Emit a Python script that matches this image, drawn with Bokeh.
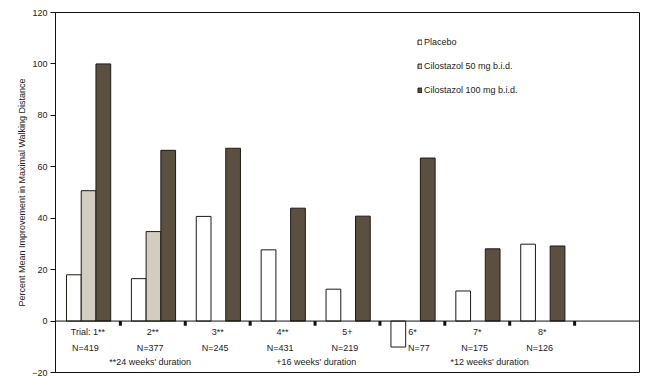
import math
from bokeh.plotting import figure
from bokeh.models import Range1d, ColumnDataSource, Span, Legend, LegendItem, FixedTicker
from bokeh.core.properties import value
from bokeh.embed import file_html
from bokeh.resources import INLINE

# ---- data ----
trial_labels = ["Trial: 1**", "2**", "3**", "4**", "5+", "6*", "7*", "8*"]
n_labels = ["N=419", "N=377", "N=245", "N=431", "N=219", "N=77", "N=175", "N=126"]
placebo = [18.0, 16.5, 40.7, 27.7, 12.4, -10.1, 11.7, 29.9]
cilo50 = [50.7, 34.8, None, None, None, None, None, None]
cilo100 = [100.0, 66.4, 67.2, 43.9, 40.8, 63.4, 28.1, 29.2]
series_names = ["Placebo", "Cilostazol 50 mg b.i.d.", "Cilostazol 100 mg b.i.d."]
duration_labels = ["**24 weeks' duration", "+16 weeks' duration", "*12 weeks' duration"]
duration_pos = [1.46, 4.02, 6.69]   # label centres, in category units
y_ticks = [-20, 0, 20, 40, 60, 80, 100, 120]

FONT = "Liberation Sans"
TXT = "#222222"
EDGE = "#1e1a14"
fills = ["#ffffff", "#d3cdc1", "#5b5040"]

n_cat = len(trial_labels)
x_max = n_cat + 1  # one empty slot at the right

p = figure(width=646, height=376, output_backend="svg", toolbar_location=None,
           x_range=Range1d(0, x_max), y_range=Range1d(-20, 120),
           min_border_left=55, min_border_right=7, min_border_top=12, min_border_bottom=4)
p.background_fill_color = "white"
p.border_fill_color = "white"
p.outline_line_color = "#111111"
p.outline_line_width = 1
p.grid.visible = False
p.xaxis.visible = False

ya = p.yaxis[0]
ya.ticker = FixedTicker(ticks=y_ticks)
ya.major_tick_out = 5
ya.major_tick_in = 0
ya.minor_tick_line_color = None
ya.axis_line_color = "#111111"
ya.major_tick_line_color = "#111111"
ya.major_label_text_font = FONT
ya.major_label_text_font_size = "9px"
ya.major_label_text_color = TXT
ya.major_label_standoff = 3
ya.axis_label = "Percent Mean Improvement in Maximal Walking Distance"
ya.axis_label_text_font = FONT
ya.axis_label_text_font_size = "9px"
ya.axis_label_text_font_style = "normal"
ya.axis_label_text_color = TXT
ya.axis_label_standoff = 2

bw = 0.227
offsets = [-bw, 0.0, bw]
renderers = []
for k, vals in enumerate([placebo, cilo50, cilo100]):
    xs, tops = [], []
    for i, v in enumerate(vals):
        if v is None:
            continue
        xs.append(i + 0.51 + offsets[k])
        tops.append(v)
    src = ColumnDataSource(dict(x=xs, top=tops))
    r = p.vbar(x="x", top="top", bottom=0, width=bw, source=src,
               fill_color=fills[k], line_color=EDGE, line_width=1)
    renderers.append(r)

# zero line across the frame
p.add_layout(Span(location=0, dimension="width", line_color="#111111", line_width=1))

# category tick marks at the zero line
bounds = list(range(1, n_cat + 1))
p.segment(x0=bounds, y0=[0] * len(bounds), x1=bounds, y1=[-1.8] * len(bounds),
          line_color="#111111", line_width=3)

centers = [i + 0.5 for i in range(n_cat)]
# N labels: nudge right where a negative bar sits under the label
n_x = [c + (0.1 if v < 0 else -0.04) for c, v in zip(centers, placebo)]
p.text(x=centers, y=[-4.3] * n_cat, text=trial_labels, text_font=value(FONT),
       text_font_size="9px", text_color=TXT, text_align="center", text_baseline="middle")
p.text(x=n_x, y=[-10.5] * n_cat, text=n_labels, text_font=value(FONT),
       text_font_size="9px", text_color=TXT, text_align="center", text_baseline="middle")
p.text(x=duration_pos, y=[-15.9] * len(duration_pos), text=duration_labels, text_font=value(FONT),
       text_font_size="9px", text_color=TXT, text_align="center", text_baseline="middle")

legend = Legend(items=[LegendItem(label=series_names[k], renderers=[renderers[k]]) for k in range(3)],
                location=(362, 277), orientation="vertical",
                glyph_width=5, glyph_height=6, label_height=11, label_standoff=2,
                spacing=13, padding=0, margin=0, border_line_color=None,
                background_fill_alpha=0,
                label_text_font=FONT, label_text_font_size="9px", label_text_color=TXT)
p.add_layout(legend)

open("out.html", "w").write(file_html(p, INLINE))
